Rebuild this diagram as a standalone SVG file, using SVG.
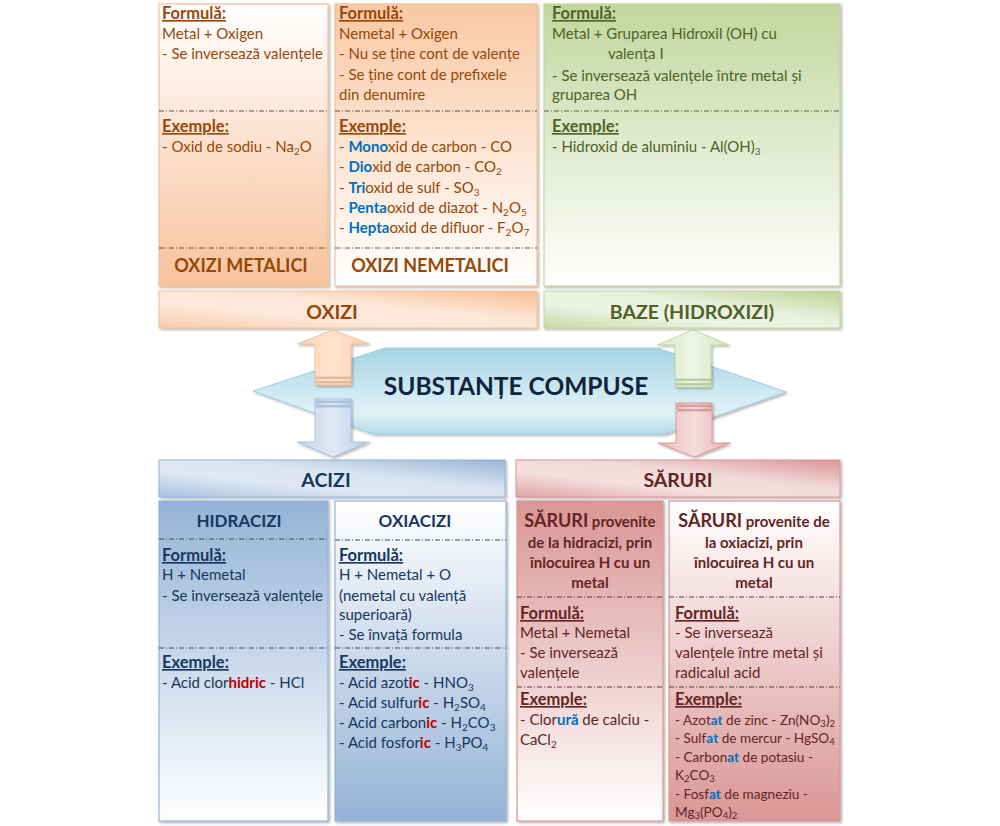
<svg xmlns="http://www.w3.org/2000/svg" width="1000" height="826" viewBox="0 0 1000 826">
  <defs>
    <style>
      .t { font-family: Lato, "Liberation Sans", "DejaVu Sans", sans-serif; font-size: 15px; }
      .b { font-weight: bold; }
      .u { text-decoration: underline; font-size: 16.5px; }
      .o { fill: #974806; }
      .g { fill: #4f6228; }
      .n { fill: #17375e; }
      .r { fill: #632523; }
      .hb { fill: #0070c0; font-weight: bold; }
      .hr { fill: #c00000; font-weight: bold; }
      .s { font-size: 10px; }
      .sm { font-size: 13.6px; }
      .sm .s { font-size: 9.5px; }
      .ttl { font-size: 19.5px; font-weight: bold; text-anchor: middle; }
      .cap { font-size: 18px; font-weight: bold; text-anchor: middle; }
      .big { font-size: 24.5px; font-weight: bold; text-anchor: middle; fill: #10243e; }
      .sub { font-size: 17px; font-weight: bold; text-anchor: middle; }
      .hdr { font-size: 15px; font-weight: bold; text-anchor: middle; }
      .hdr .w { font-size: 18px; }
      .dash { stroke-width: 1; stroke-dasharray: 5 2 1 2; fill: none; }
      .pan { stroke-width: 1.2; }
    </style>
    <filter id="shadow" x="-5%" y="-5%" width="110%" height="115%">
      <feDropShadow dx="1.5" dy="1.5" stdDeviation="0.8" flood-color="#000" flood-opacity="0.3"/>
    </filter>
    <!-- panel fills: coloured end to white end -->
    <linearGradient id="orDown" x1="0" y1="0" x2="0" y2="1">
      <stop offset="0" stop-color="#ffffff"/>
      <stop offset="1" stop-color="#f8c29c"/>
    </linearGradient>
    <linearGradient id="orUp" x1="0" y1="0" x2="0" y2="1">
      <stop offset="0" stop-color="#f9c8a4"/>
      <stop offset="1" stop-color="#ffffff"/>
    </linearGradient>
    <linearGradient id="grUp" x1="0" y1="0" x2="0" y2="1">
      <stop offset="0" stop-color="#c3d69e"/>
      <stop offset="1" stop-color="#ffffff"/>
    </linearGradient>
    <linearGradient id="blUp" x1="0" y1="0" x2="0" y2="1">
      <stop offset="0" stop-color="#95b3d7"/>
      <stop offset="1" stop-color="#ffffff"/>
    </linearGradient>
    <linearGradient id="blDown" x1="0" y1="0" x2="0" y2="1">
      <stop offset="0" stop-color="#ffffff"/>
      <stop offset="1" stop-color="#95b3d7"/>
    </linearGradient>
    <linearGradient id="rdUp" x1="0" y1="0" x2="0" y2="1">
      <stop offset="0" stop-color="#d99694"/>
      <stop offset="1" stop-color="#ffffff"/>
    </linearGradient>
    <linearGradient id="rdDown" x1="0" y1="0" x2="0" y2="1">
      <stop offset="0" stop-color="#ffffff"/>
      <stop offset="1" stop-color="#d99694"/>
    </linearGradient>
    <!-- glossy title bars -->
    <linearGradient id="barOr" x1="0" y1="1" x2="1" y2="0">
      <stop offset="0" stop-color="#f9cbaa"/>
      <stop offset="0.35" stop-color="#fde9dc"/>
      <stop offset="0.6" stop-color="#fde6d6"/>
      <stop offset="1" stop-color="#f8bd92"/>
    </linearGradient>
    <linearGradient id="barGr" x1="0" y1="1" x2="1" y2="0">
      <stop offset="0" stop-color="#c6d9a3"/>
      <stop offset="0.35" stop-color="#edf3e3"/>
      <stop offset="0.6" stop-color="#e8f0dc"/>
      <stop offset="1" stop-color="#bcd394"/>
    </linearGradient>
    <linearGradient id="barBl" x1="0" y1="1" x2="1" y2="0">
      <stop offset="0" stop-color="#a9c2e0"/>
      <stop offset="0.35" stop-color="#dfe8f3"/>
      <stop offset="0.6" stop-color="#d9e4f1"/>
      <stop offset="1" stop-color="#97b5d8"/>
    </linearGradient>
    <linearGradient id="barRd" x1="0" y1="1" x2="1" y2="0">
      <stop offset="0" stop-color="#dea3a2"/>
      <stop offset="0.35" stop-color="#f4e0df"/>
      <stop offset="0.6" stop-color="#f1dad9"/>
      <stop offset="1" stop-color="#d99694"/>
    </linearGradient>
    <linearGradient id="hex" x1="0" y1="0" x2="0" y2="1">
      <stop offset="0" stop-color="#a3d4e3"/>
      <stop offset="0.45" stop-color="#cae7f0"/>
      <stop offset="0.75" stop-color="#e0f1f6"/>
      <stop offset="1" stop-color="#b3dce8"/>
    </linearGradient>
    <!-- arrow fills -->
    <linearGradient id="arOr" x1="0" y1="0" x2="1" y2="0">
      <stop offset="0" stop-color="#fbd3b3"/>
      <stop offset="0.5" stop-color="#fde3cf"/>
      <stop offset="1" stop-color="#fbd0ad"/>
    </linearGradient>
    <linearGradient id="arBl" x1="0" y1="0" x2="1" y2="0">
      <stop offset="0" stop-color="#c3d4ea"/>
      <stop offset="0.5" stop-color="#dfe8f4"/>
      <stop offset="1" stop-color="#bccfe7"/>
    </linearGradient>
    <linearGradient id="arGr" x1="0" y1="0" x2="1" y2="0">
      <stop offset="0" stop-color="#dce8c8"/>
      <stop offset="0.5" stop-color="#eef4e3"/>
      <stop offset="1" stop-color="#d7e5bf"/>
    </linearGradient>
    <linearGradient id="arRd" x1="0" y1="0" x2="1" y2="0">
      <stop offset="0" stop-color="#eab8b7"/>
      <stop offset="0.5" stop-color="#f5dedd"/>
      <stop offset="1" stop-color="#e6b0af"/>
    </linearGradient>
  </defs>

  <rect width="1000" height="826" fill="#ffffff"/>

  <!-- ===== upper row: oxides and bases ===== -->
  <g id="oxizi-metalici">
    <rect class="pan" x="159" y="4" width="169" height="282" fill="url(#orDown)" stroke="#f6bf98" filter="url(#shadow)"/>
    <line class="dash" x1="159" y1="111" x2="328" y2="111" stroke="#6b5040"/>
    <line class="dash" x1="159" y1="248" x2="328" y2="248" stroke="#6b5040"/>
    <text class="t o b u" x="162" y="19">Formulă:</text>
    <text class="t o" x="162" y="39">Metal + Oxigen</text>
    <text class="t o" x="162" y="59">- Se inversează valențele</text>
    <text class="t o b u" x="162" y="132">Exemple:</text>
    <text class="t o" x="162" y="152">- Oxid de sodiu - Na<tspan class="s" dy="3">2</tspan><tspan dy="-3">O</tspan></text>
    <text class="t o cap" x="241" y="272">OXIZI METALICI</text>
  </g>

  <g id="oxizi-nemetalici">
    <rect class="pan" x="335" y="4" width="202" height="282" fill="url(#orUp)" stroke="#f6bf98" filter="url(#shadow)"/>
    <line class="dash" x1="335" y1="111" x2="537" y2="111" stroke="#6b5040"/>
    <line class="dash" x1="335" y1="248" x2="537" y2="248" stroke="#6b5040"/>
    <text class="t o b u" x="339" y="19">Formulă:</text>
    <text class="t o" x="339" y="39">Nemetal + Oxigen</text>
    <text class="t o" x="339" y="59">- Nu se ține cont de valențe</text>
    <text class="t o" x="339" y="80">- Se ține cont de prefixele</text>
    <text class="t o" x="339" y="100">din denumire</text>
    <text class="t o b u" x="339" y="132">Exemple:</text>
    <text class="t o" x="339" y="152">- <tspan class="hb">Mono</tspan>xid de carbon - CO</text>
    <text class="t o" x="339" y="172">- <tspan class="hb">Dio</tspan>xid de carbon - CO<tspan class="s" dy="3">2</tspan></text>
    <text class="t o" x="339" y="193">- <tspan class="hb">Tri</tspan>oxid de sulf - SO<tspan class="s" dy="3">3</tspan></text>
    <text class="t o" x="339" y="213">- <tspan class="hb">Penta</tspan>oxid de diazot - N<tspan class="s" dy="3">2</tspan><tspan dy="-3">O</tspan><tspan class="s" dy="3">5</tspan></text>
    <text class="t o" x="339" y="233">- <tspan class="hb">Hepta</tspan>oxid de difluor - F<tspan class="s" dy="3">2</tspan><tspan dy="-3">O</tspan><tspan class="s" dy="3">7</tspan></text>
    <text class="t o cap" x="430" y="272">OXIZI NEMETALICI</text>
  </g>

  <g id="baze-detalii">
    <rect class="pan" x="544" y="4" width="296" height="282" fill="url(#grUp)" stroke="#c3d69b" filter="url(#shadow)"/>
    <line class="dash" x1="544" y1="111" x2="840" y2="111" stroke="#5a6248"/>
    <text class="t g b u" x="552" y="19">Formulă:</text>
    <text class="t g" x="552" y="39">Metal + Gruparea Hidroxil (OH) cu</text>
    <text class="t g" x="608" y="59">valența I</text>
    <text class="t g" x="552" y="81">- Se inversează valențele între metal și</text>
    <text class="t g" x="552" y="100">gruparea OH</text>
    <text class="t g b u" x="552" y="132">Exemple:</text>
    <text class="t g" x="552" y="152">- Hidroxid de aluminiu - Al(OH)<tspan class="s" dy="3">3</tspan></text>
  </g>

  <g id="oxizi">
    <rect x="159" y="291" width="378" height="37" fill="url(#barOr)" stroke="#f6bf98" filter="url(#shadow)"/>
    <text class="t ttl o" x="332" y="319">OXIZI</text>
  </g>

  <g id="baze">
    <rect x="544" y="291" width="296" height="37" fill="url(#barGr)" stroke="#c3d69b" filter="url(#shadow)"/>
    <text class="t ttl g" x="692" y="319">BAZE (HIDROXIZI)</text>
  </g>

  <!-- ===== centre ===== -->
  <g id="substante-compuse">
    <polygon points="253,391 385,348 657,348 786,392 665,434 373,434" fill="url(#hex)" stroke="#9fcfdd" stroke-width="1" filter="url(#shadow)"/>
    <text class="t big" x="516" y="395">SUBSTANȚE COMPUSE</text>
  </g>

  <!-- ===== connectors: striped block arrows ===== -->
  <g id="connectors" filter="url(#shadow)">
    <g id="arrow-oxizi" fill="url(#arOr)" stroke="#f4b58a" stroke-width="0.8">
      <polygon points="333,330 369,344 351,344 351,377 315,377 315,344 297,344"/>
      <rect x="315" y="378.5" width="36" height="3"/>
      <rect x="315" y="383" width="36" height="2"/>
    </g>
    <g id="arrow-baze" fill="url(#arGr)" stroke="#b9cf8e" stroke-width="0.8">
      <polygon points="693,330 729,345 711,345 711,379 675,379 675,345 657,345"/>
      <rect x="675" y="380.5" width="36" height="3"/>
      <rect x="675" y="385" width="36" height="2"/>
    </g>
    <g id="arrow-acizi" fill="url(#arBl)" stroke="#a1bbdb" stroke-width="0.8">
      <rect x="315" y="399" width="36" height="2"/>
      <rect x="315" y="402.5" width="36" height="3"/>
      <polygon points="315,407 351,407 351,442 369,442 333,457 297,442 315,442"/>
    </g>
    <g id="arrow-saruri" fill="url(#arRd)" stroke="#d68a88" stroke-width="0.8">
      <rect x="676" y="403" width="36" height="2"/>
      <rect x="676" y="406.5" width="36" height="3"/>
      <polygon points="676,411 712,411 712,443 730,443 694,457 658,443 676,443"/>
    </g>
  </g>

  <!-- ===== lower row: acids and salts ===== -->
  <g id="acizi">
    <rect x="159" y="460" width="346" height="37" fill="url(#barBl)" stroke="#95b3d7" filter="url(#shadow)"/>
    <text class="t ttl n" x="326" y="487">ACIZI</text>
  </g>

  <g id="saruri">
    <rect x="516" y="460" width="324" height="37" fill="url(#barRd)" stroke="#d99694" filter="url(#shadow)"/>
    <text class="t ttl r" x="678" y="487">SĂRURI</text>
  </g>

  <g id="hidracizi">
    <rect class="pan" x="159" y="501" width="169" height="320" fill="url(#blUp)" stroke="#95b3d7" filter="url(#shadow)"/>
    <line class="dash" x1="159" y1="539" x2="328" y2="539" stroke="#3d4a5c"/>
    <line class="dash" x1="159" y1="648" x2="328" y2="648" stroke="#3d4a5c"/>
    <text class="t sub n" x="239" y="527">HIDRACIZI</text>
    <text class="t n b u" x="162" y="561">Formulă:</text>
    <text class="t n" x="162" y="580">H + Nemetal</text>
    <text class="t n" x="162" y="601">- Se inversează valențele</text>
    <text class="t n b u" x="162" y="668">Exemple:</text>
    <text class="t n" x="162" y="688">- Acid clor<tspan class="hr">hidric</tspan> - HCl</text>
  </g>

  <g id="oxiacizi">
    <rect class="pan" x="335" y="501" width="171" height="320" fill="url(#blDown)" stroke="#95b3d7" filter="url(#shadow)"/>
    <line class="dash" x1="335" y1="540" x2="506" y2="540" stroke="#3d4a5c"/>
    <line class="dash" x1="335" y1="648" x2="506" y2="648" stroke="#3d4a5c"/>
    <text class="t sub n" x="415" y="527">OXIACIZI</text>
    <text class="t n b u" x="339" y="561">Formulă:</text>
    <text class="t n" x="339" y="580">H + Nemetal + O</text>
    <text class="t n" x="339" y="601">(nemetal cu valență</text>
    <text class="t n" x="339" y="620">superioară)</text>
    <text class="t n" x="339" y="640">- Se învață formula</text>
    <text class="t n b u" x="339" y="668">Exemple:</text>
    <text class="t n" x="339" y="688">- Acid azot<tspan class="hr">ic</tspan> - HNO<tspan class="s" dy="3">3</tspan></text>
    <text class="t n" x="339" y="708">- Acid sulfur<tspan class="hr">ic</tspan> - H<tspan class="s" dy="3">2</tspan><tspan dy="-3">SO</tspan><tspan class="s" dy="3">4</tspan></text>
    <text class="t n" x="339" y="728">- Acid carbon<tspan class="hr">ic</tspan> - H<tspan class="s" dy="3">2</tspan><tspan dy="-3">CO</tspan><tspan class="s" dy="3">3</tspan></text>
    <text class="t n" x="339" y="748">- Acid fosfor<tspan class="hr">ic</tspan> - H<tspan class="s" dy="3">3</tspan><tspan dy="-3">PO</tspan><tspan class="s" dy="3">4</tspan></text>
  </g>

  <g id="saruri-hidracizi">
    <rect class="pan" x="517" y="501" width="146" height="320" fill="url(#rdUp)" stroke="#d99694" filter="url(#shadow)"/>
    <line class="dash" x1="517" y1="597" x2="663" y2="597" stroke="#5a3a3a"/>
    <line class="dash" x1="517" y1="687" x2="663" y2="687" stroke="#5a3a3a"/>
    <text class="t hdr r" x="590" y="527"><tspan class="w">SĂRURI</tspan> provenite</text>
    <text class="t hdr r" x="590" y="548">de la hidracizi, prin</text>
    <text class="t hdr r" x="590" y="568">înlocuirea H cu un</text>
    <text class="t hdr r" x="590" y="588">metal</text>
    <text class="t r b u" x="520" y="619">Formulă:</text>
    <text class="t r" x="520" y="638">Metal + Nemetal</text>
    <text class="t r" x="520" y="658">- Se inversează</text>
    <text class="t r" x="520" y="678">valențele</text>
    <text class="t r b u" x="520" y="705">Exemple:</text>
    <text class="t r" x="520" y="725">- Clor<tspan class="hb">ură</tspan> de calciu -</text>
    <text class="t r" x="520" y="745">CaCl<tspan class="s" dy="3">2</tspan></text>
  </g>

  <g id="saruri-oxiacizi">
    <rect class="pan" x="669" y="501" width="171" height="320" fill="url(#rdDown)" stroke="#d99694" filter="url(#shadow)"/>
    <line class="dash" x1="669" y1="597" x2="840" y2="597" stroke="#5a3a3a"/>
    <line class="dash" x1="669" y1="687" x2="840" y2="687" stroke="#5a3a3a"/>
    <text class="t hdr r" x="754" y="527"><tspan class="w">SĂRURI</tspan> provenite de</text>
    <text class="t hdr r" x="754" y="548">la oxiacizi, prin</text>
    <text class="t hdr r" x="754" y="568">înlocuirea H cu un</text>
    <text class="t hdr r" x="754" y="588">metal</text>
    <text class="t r b u" x="675" y="619">Formulă:</text>
    <text class="t r" x="675" y="638">- Se inversează</text>
    <text class="t r" x="675" y="658">valențele între metal și</text>
    <text class="t r" x="675" y="678">radicalul acid</text>
    <text class="t r b u" x="675" y="705">Exemple:</text>
    <text class="t r sm" x="675" y="725">- Azot<tspan class="hb">at</tspan> de zinc - Zn(NO<tspan class="s" dy="2">3</tspan><tspan dy="-2">)</tspan><tspan class="s" dy="2">2</tspan></text>
    <text class="t r sm" x="675" y="743">- Sulf<tspan class="hb">at</tspan> de mercur - HgSO<tspan class="s" dy="2">4</tspan></text>
    <text class="t r sm" x="675" y="762">- Carbon<tspan class="hb">at</tspan> de potasiu -</text>
    <text class="t r sm" x="675" y="780">K<tspan class="s" dy="2">2</tspan><tspan dy="-2">CO</tspan><tspan class="s" dy="2">3</tspan></text>
    <text class="t r sm" x="675" y="799">- Fosf<tspan class="hb">at</tspan> de magneziu -</text>
    <text class="t r sm" x="675" y="817">Mg<tspan class="s" dy="2">3</tspan><tspan dy="-2">(PO</tspan><tspan class="s" dy="2">4</tspan><tspan dy="-2">)</tspan><tspan class="s" dy="2">2</tspan></text>
  </g>
</svg>
